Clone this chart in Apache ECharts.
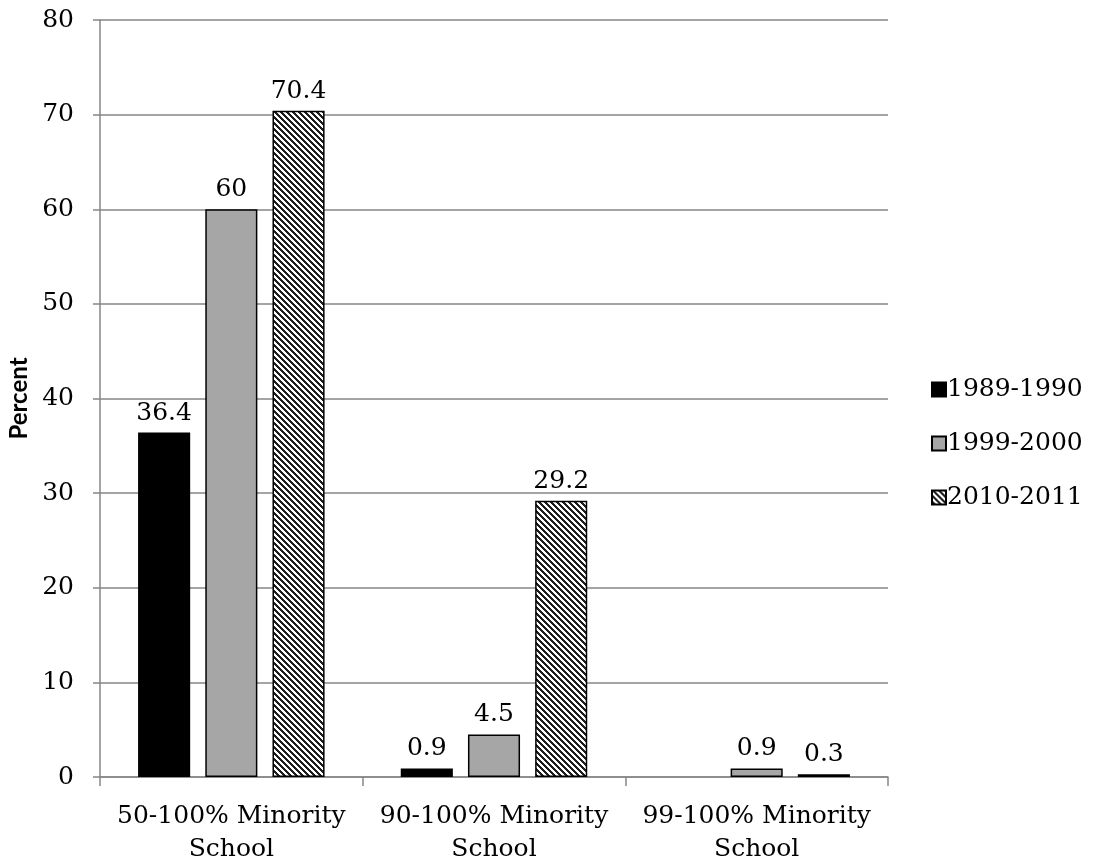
<!DOCTYPE html>
<html>
<head>
<meta charset="utf-8">
<script src="https://cdn.jsdelivr.net/npm/echarts@6/dist/echarts.min.js"></script>
<style>
html,body{margin:0;padding:0;background:#fff;}
#chart{width:1097px;height:865px;}
</style>
</head>
<body>
<div id="chart"></div>
<script>
const categories = ['50-100% Minority\nSchool', '90-100% Minority\nSchool', '99-100% Minority\nSchool'];
const seriesNames = ['1989-1990', '1999-2000', '2010-2011'];
const values1989 = [36.4, 0.9, null];
const values1999 = [60, 4.5, 0.9];
const values2010 = [70.4, 29.2, 0.3];
const yTicks = [0, 10, 20, 30, 40, 50, 60, 70, 80];

function makeHatch() {
  const size = 6;
  const c = document.createElement('canvas');
  c.width = size; c.height = size;
  const ctx = c.getContext('2d');
  const img = ctx.createImageData(size, size);
  for (let y = 0; y < size; y++) {
    for (let x = 0; x < size; x++) {
      const d = ((x - y) % size + size) % size;
      const v = d < 3 ? 30 : 255;
      const i = (y * size + x) * 4;
      img.data[i] = v; img.data[i+1] = v; img.data[i+2] = v; img.data[i+3] = 255;
    }
  }
  ctx.putImageData(img, 0, 0);
  return c;
}
const hatch = { image: makeHatch(), repeat: 'repeat' };

const serif = 'DejaVu Serif';
const labelStyle = {
  show: true, position: 'top', distance: 7,
  fontFamily: serif, fontSize: 25, color: '#000'
};
const fills = ['#000000', '#a6a6a6', hatch];
const seriesData = [values1989, values1999, values2010];

const chart = echarts.init(document.getElementById('chart'), null, {renderer: 'canvas'});
chart.setOption({
  animation: false,
  backgroundColor: '#fff',
  grid: { left: 100, right: 209, top: 20, bottom: 88, containLabel: false, outerBoundsMode: 'none' },
  legend: {
    orient: 'vertical',
    left: 926, top: 372,
    itemWidth: 14, itemHeight: 14, itemGap: 29,
    icon: 'rect',
    data: seriesNames,
    textStyle: { fontFamily: serif, fontSize: 25, color: '#000', padding: [0, 0, 0, -4] }
  },
  xAxis: {
    type: 'category',
    data: categories,
    axisLine: { show: true, lineStyle: { color: '#868686', width: 1.5 } },
    axisTick: { show: true, alignWithLabel: false, length: 9, lineStyle: { color: '#868686', width: 1.5 } },
    axisLabel: { interval: 0, fontFamily: serif, fontSize: 25, color: '#000', lineHeight: 33, margin: 23 }
  },
  yAxis: {
    type: 'value',
    min: yTicks[0], max: yTicks[yTicks.length - 1], interval: 10,
    name: 'Percent',
    nameLocation: 'middle',
    nameRotate: 90,
    nameGap: 69,
    nameTextStyle: { fontFamily: 'Lato', fontWeight: 'bold', fontSize: 24, color: '#000' },
    axisLine: { show: true, lineStyle: { color: '#868686', width: 1.5 } },
    axisTick: { show: true, inside: false, length: 7, lineStyle: { color: '#868686', width: 1.5 } },
    splitLine: { show: true, lineStyle: { color: '#868686', width: 1.5 } },
    axisLabel: { fontFamily: serif, fontSize: 25, color: '#000', margin: 26 }
  },
  series: seriesNames.map((name, i) => ({
    name: name,
    type: 'bar',
    data: seriesData[i],
    barGap: '29%',
    barCategoryGap: '29%',
    itemStyle: { color: fills[i], borderColor: '#000', borderWidth: 1.5 },
    label: labelStyle
  }))
});
</script>
</body>
</html>
